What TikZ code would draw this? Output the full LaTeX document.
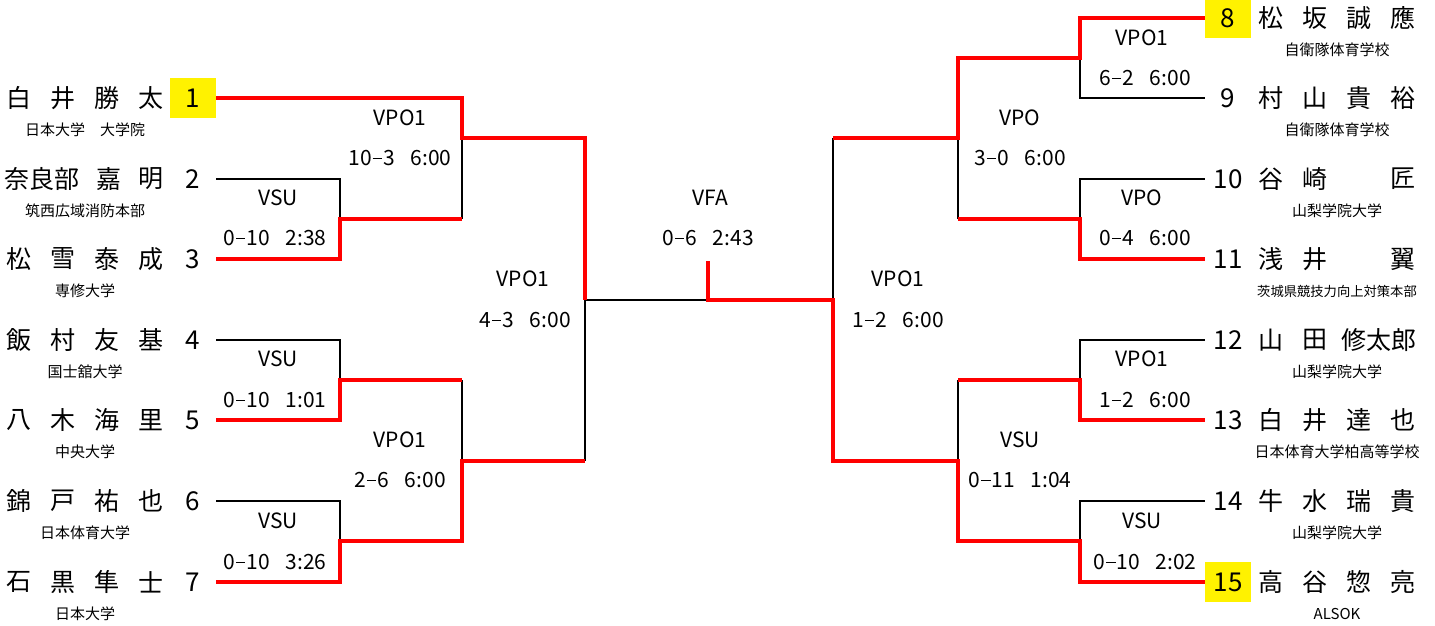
\documentclass[tikz,border=0pt]{standalone}
\usepackage{fontspec}
\setmainfont{Noto Sans CJK JP}
\usetikzlibrary{positioning}

\tikzset{
  seed/.style={minimum width=46pt, minimum height=40pt, inner sep=0pt,
    font=\fontsize{26pt}{26pt}\selectfont},
  hiseed/.style={seed, fill=yellow},
  pname/.style={inner sep=0pt, font=\fontsize{25pt}{25pt}\selectfont},
  aff/.style={inner sep=0pt, font=\fontsize{15pt}{15pt}\selectfont},
  mlabel/.style={inner sep=0pt, font=\fontsize{21pt}{21pt}\selectfont},
  lose/.style={black, line width=1.8pt},
  win/.style={red, line width=4.2pt},
}

% match label: name, title pos, title, score pos, score
\newcommand{\matchlabel}[5]{%
  \node[mlabel] (#1t) at (#2) {#3};
  \node[mlabel] (#1s) at (#4) {#5};}
\newcommand{\gap}{\hspace{16pt}}
\newcommand{\dsh}{\kern1pt\rule[0.29em]{0.45em}{0.09em}\kern1pt}

\begin{document}
\begin{tikzpicture}[x=1pt, y=-1pt]
  \useasboundingbox (0,0) rectangle (1435,626);
  % ---- left players ----
  \foreach \n/\y/\st/\nm/\af in {
    1/98/hiseed/{白,井,勝,太}/日本大学　大学院,
    3/259/seed/{松,雪,泰,成}/専修大学,
    4/340/seed/{飯,村,友,基}/国士舘大学,
    5/420/seed/{八,木,海,里}/中央大学,
    6/501/seed/{錦,戸,祐,也}/日本体育大学,
    7/582/seed/{石,黒,隼,士}/日本大学}
  {
    \node[\st] (s\n) at (193,\y) {\n};
    \foreach \ch [count=\k from 0] in \nm
      {\node[pname] (p\n-\k) at ({19+44*\k},\y) {\ch};}
    \node[aff] (a\n) at (85,\y+32) {\af};
  }
  \node[seed] (s2) at (193,179) {2};
  \node[pname] (p2-0) at (42,179) {奈良部};
  \node[pname] (p2-1) at (109,179) {嘉};
  \node[pname] (p2-2) at (151,179) {明};
  \node[aff] (a2) at (85,211) {筑西広域消防本部};
  % ---- right players ----
  \foreach \n/\y/\st/\nm/\af in {
    8/18/hiseed/{松,坂,誠,應}/自衛隊体育学校,
    9/98/seed/{村,山,貴,裕}/自衛隊体育学校,
    10/179/seed/{谷,崎,{},匠}/山梨学院大学,
    13/420/seed/{白,井,達,也}/日本体育大学柏高等学校,
    14/501/seed/{牛,水,瑞,貴}/山梨学院大学,
    15/582/hiseed/{高,谷,惣,亮}/ALSOK}
  {
    \node[\st] (s\n) at (1228,\y) {\n};
    \foreach \ch [count=\k from 0] in \nm
      {\node[pname] (p\n-\k) at ({1271+44*\k},\y) {\ch};}
    \node[aff] (a\n) at (1337,\y+32) {\af};
  }
  \node[seed] (s11) at (1228,259) {11};
  \node[pname] (p11-0) at (1271,259) {浅};
  \node[pname] (p11-1) at (1315,259) {井};
  \node[pname] (p11-3) at (1403,259) {翼};
  \node[aff, font=\fontsize{13.3pt}{13.3pt}\selectfont] (a11) at (1337,291) {茨城県競技力向上対策本部};
  \node[seed] (s12) at (1228,340) {12};
  \node[pname] (p12-0) at (1271,340) {山};
  \node[pname] (p12-1) at (1315,340) {田};
  \node[pname] (p12-2) at (1379,340) {修太郎};
  \node[aff] (a12) at (1337,372) {山梨学院大学};
  % ---- junctions ----
  \coordinate (m23) at (340,219);
  \coordinate (m45) at (340,380);
  \coordinate (m67) at (340,541);
  \coordinate (q1) at (462,138);
  \coordinate (q2) at (462,461);
  \coordinate (sL) at (585,300);
  \coordinate (fin) at (708,300);
  \coordinate (ftop) at (708,261);
  \coordinate (m89) at (1080,58);
  \coordinate (m1011) at (1080,219);
  \coordinate (m1213) at (1080,380);
  \coordinate (m1415) at (1080,541);
  \coordinate (q3) at (958,138);
  \coordinate (q4) at (958,461);
  \coordinate (sR) at (833,300);
  % ---- losing lines ----
  \draw[lose] (s2.east) -| (m23);
  \draw[lose] (m23 -| q1) -- (q1);
  \draw[lose] (s4.east) -| (m45);
  \draw[lose] (m45 -| q2) -- (q2);
  \draw[lose] (s6.east) -| (m67);
  \draw[lose] (q2 -| sL) -- (sL) -- (fin);
  \draw[lose] (s9.west) -| (m89);
  \draw[lose] (s10.west) -| (m1011);
  \draw[lose] (m1011 -| q3) -- (q3);
  \draw[lose] (q3 -| sR) -- (sR);
  \draw[lose] (s12.west) -| (m1213);
  \draw[lose] (m1213 -| q4) -- (q4);
  \draw[lose] (s14.west) -| (m1415);
  % ---- winning lines ----
  \draw[win] (s1.east) -| (q1) -| (sL);
  \draw[win] (s3.east) -| (m23) -- (m23 -| q1);
  \draw[win] (s5.east) -| (m45) -- (m45 -| q2);
  \draw[win] (s7.east) -| (m67) -| (q2) -- (q2 -| sL);
  \draw[win] (s8.west) -| (m89) -| (q3) -- (q3 -| sR);
  \draw[win] (s11.west) -| (m1011) -- (m1011 -| q3);
  \draw[win] (s13.west) -| (m1213) -- (m1213 -| q4);
  \draw[win] (s15.west) -| (m1415) -| (q4) -| (sR) -- (fin) -- (ftop);
  % ---- match labels ----
  \matchlabel{l23}{278,198}{VSU}{275,238}{0\dsh10\gap 2:38}
  \matchlabel{l45}{278,359}{VSU}{275,400}{0\dsh10\gap 1:01}
  \matchlabel{l67}{278,521}{VSU}{275,562}{0\dsh10\gap 3:26}
  \matchlabel{lq1}{400,118}{VPO1}{400,158}{10\dsh3\gap 6:00}
  \matchlabel{lq2}{400,440}{VPO1}{400,480}{2\dsh6\gap 6:00}
  \matchlabel{lsL}{523,279}{VPO1}{525,320}{4\dsh3\gap 6:00}
  \matchlabel{lfin}{710,198}{VFA}{708,238}{0\dsh6\gap 2:43}
  \matchlabel{lsR}{898,279}{VPO1}{898,320}{1\dsh2\gap 6:00}
  \matchlabel{lq3}{1020,118}{VPO}{1020,158}{3\dsh0\gap 6:00}
  \matchlabel{lq4}{1020,440}{VSU}{1020,480}{0\dsh11\gap 1:04}
  \matchlabel{l89}{1142,38}{VPO1}{1145,78}{6\dsh2\gap 6:00}
  \matchlabel{l1011}{1142,198}{VPO}{1145,238}{0\dsh4\gap 6:00}
  \matchlabel{l1213}{1142,359}{VPO1}{1145,400}{1\dsh2\gap 6:00}
  \matchlabel{l1415}{1142,521}{VSU}{1145,562}{0\dsh10\gap 2:02}
\end{tikzpicture}
\end{document}
